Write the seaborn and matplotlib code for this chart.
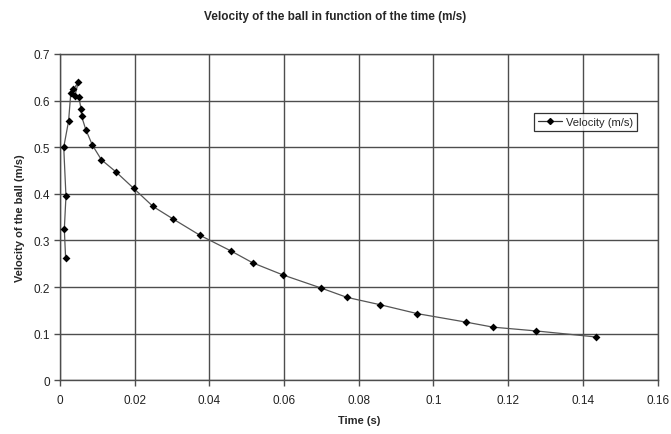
"""velocity of the ball versus time, excel-style scatter with line"""
import matplotlib.pyplot as plt
import matplotlib.ticker as mticker
import pandas as pd
import seaborn as sns

# values, in drawing order
time_s = [
    0.0015, 0.00116, 0.0016, 0.0010, 0.0023, 0.0029, 0.0036, 0.0049,
    0.0040, 0.0051, 0.0056, 0.0058, 0.0069, 0.0087, 0.0111, 0.0150,
    0.0197, 0.0249, 0.0303, 0.0375, 0.0459, 0.0516, 0.0597, 0.0699,
    0.0768, 0.0858, 0.0957, 0.1086, 0.1160, 0.1274, 0.1435,
]
velocity = [
    0.263, 0.324, 0.395, 0.500, 0.556, 0.617, 0.624, 0.640,
    0.610, 0.607, 0.583, 0.566, 0.538, 0.504, 0.473, 0.447,
    0.412, 0.373, 0.346, 0.311, 0.277, 0.252, 0.226, 0.198,
    0.178, 0.162, 0.143, 0.125, 0.114, 0.106, 0.093,
]
x_ticks = [0, 0.02, 0.04, 0.06, 0.08, 0.1, 0.12, 0.14, 0.16]
y_ticks = [0, 0.1, 0.2, 0.3, 0.4, 0.5, 0.6, 0.7]

df = pd.DataFrame({"time": time_s, "velocity": velocity})

sns.set_style("white")
plt.rcParams["font.family"] = ["Liberation Sans", "DejaVu Sans"]

f = plt.figure(figsize=(6.71, 4.35), dpi=100)
ax = f.add_axes([0.0894, 0.1234, 0.8906, 0.7502])

sns.lineplot(
    df,
    ax=ax,
    x="time",
    y="velocity",
    sort=False,
    estimator=None,
    color="#555555",
    linewidth=0.9,
    legend=False,
)
sns.scatterplot(
    df,
    ax=ax,
    x="time",
    y="velocity",
    marker="D",
    s=16,
    color="black",
    edgecolor="black",
    linewidth=0,
    legend=False,
    zorder=3,
)
# legend proxy: line with diamond marker
ax.plot([], [], color="#333333", linewidth=0.9, marker="D", markersize=3,
        markerfacecolor="black", markeredgecolor="black", label="Velocity (m/s)")

ax.set_xlim(0, 0.16)
ax.set_ylim(0, 0.7)
ax.set_xticks(x_ticks)
ax.set_yticks(y_ticks)
ax.xaxis.set_major_formatter(mticker.FormatStrFormatter("%g"))
ax.yaxis.set_major_formatter(mticker.FuncFormatter(lambda v, _: f"{v:g}"))
ax.grid(True, color="#4d4d4d", linewidth=1.0)
ax.set_axisbelow(True)
for side in ax.spines.values():
    side.set_color("#4d4d4d")
    side.set_linewidth(1.0)
ax.tick_params(axis="both", direction="out", length=4, width=1, color="#4d4d4d",
               labelsize=8.5, labelcolor="#222222", pad=3,
               bottom=True, left=True)
ax.tick_params(axis="x", pad=6)

ax.set_xlabel("Time (s)", fontsize=8, fontweight="bold", labelpad=6)
ax.set_ylabel("Velocity of the ball (m/s)", fontsize=8, fontweight="bold", labelpad=6)
f.suptitle("Velocity of the ball in function of the time (m/s)",
           fontsize=8.5, fontweight="bold", y=0.975)

leg = ax.legend(loc="upper right", bbox_to_anchor=(0.965, 0.82), fontsize=8,
                frameon=True, fancybox=False, handlelength=2.2, borderpad=0.35,
                handletextpad=0.3, borderaxespad=0)
leg.get_frame().set_edgecolor("black")
leg.get_frame().set_linewidth(0.9)

out = "out.png"
print(f"plot to {out}")
f.savefig(out, dpi=100)
